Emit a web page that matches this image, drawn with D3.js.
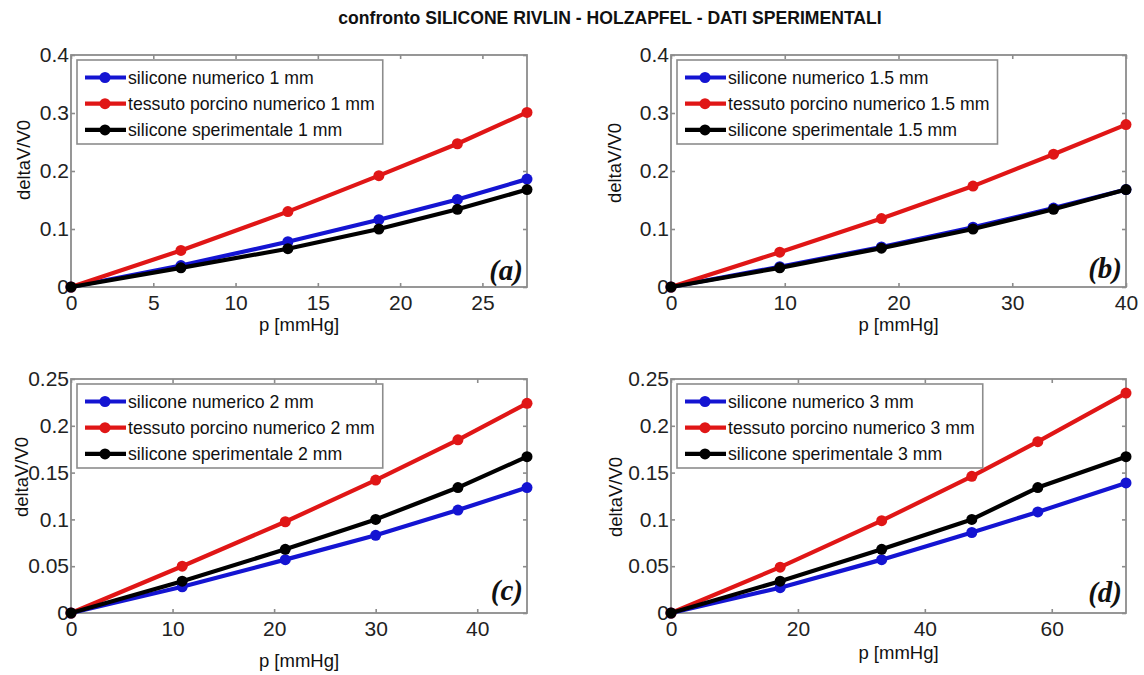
<!DOCTYPE html>
<html>
<head>
<meta charset="utf-8">
<script src="https://cdn.jsdelivr.net/npm/d3@7"></script>
<style>
  html, body { margin: 0; padding: 0; background: #fff; }
  svg { display: block; font-family: "Liberation Sans", Arial, Helvetica, sans-serif; }
</style>
</head>
<body>
<svg id="chart" width="1144" height="675"></svg>
<script>
// Title and series names
const chartTitle = "confronto SILICONE RIVLIN - HOLZAPFEL - DATI SPERIMENTALI";
const panelTags = ["(a)", "(b)", "(c)", "(d)"];
const thicknesses = ["1", "1.5", "2", "3"];
const seriesNames = ["silicone numerico", "tessuto porcino numerico", "silicone sperimentale"];
const xLabel = "p [mmHg]";
const yLabel = "deltaV/V0";

// Pressure steps [mmHg] for each wall thickness
const pressure_1mm   = [0, 6.68, 13.18, 18.71, 23.48, 27.71];
const pressure_1_5mm = [0, 9.56, 18.5, 26.55, 33.63, 40];
const pressure_2mm   = [0, 10.95, 21.1, 30.0, 38.1, 44.9];
const pressure_3mm   = [0, 17.2, 33.2, 47.4, 57.8, 71.7];

// deltaV/V0 — silicone, numerical model (Rivlin)
const siliconeNum_1mm   = [0, 0.037, 0.078, 0.116, 0.151, 0.186];
const siliconeNum_1_5mm = [0, 0.035, 0.069, 0.103, 0.136, 0.168];
const siliconeNum_2mm   = [0, 0.028, 0.057, 0.083, 0.110, 0.134];
const siliconeNum_3mm   = [0, 0.027, 0.057, 0.086, 0.108, 0.139];

// deltaV/V0 — porcine tissue, numerical model (Holzapfel)
const porcino_1mm   = [0, 0.063, 0.130, 0.192, 0.247, 0.301];
const porcino_1_5mm = [0, 0.060, 0.118, 0.174, 0.229, 0.280];
const porcino_2mm   = [0, 0.050, 0.0975, 0.142, 0.185, 0.224];
const porcino_3mm   = [0, 0.049, 0.0986, 0.146, 0.183, 0.235];

// deltaV/V0 — silicone, experimental
const siliconeExp_1mm   = [0, 0.033, 0.066, 0.100, 0.134, 0.168];
const siliconeExp_1_5mm = [0, 0.033, 0.067, 0.100, 0.134, 0.168];
const siliconeExp_2mm   = [0, 0.034, 0.068, 0.100, 0.134, 0.167];
const siliconeExp_3mm   = [0, 0.034, 0.068, 0.100, 0.134, 0.167];

// Tick values
const yTicksTop = [0, 0.1, 0.2, 0.3, 0.4];
const yTicksBottom = [0, 0.05, 0.1, 0.15, 0.2, 0.25];
const xTicks_1mm = [0, 5, 10, 15, 20, 25];
const xTicks_1_5mm = [0, 10, 20, 30, 40];
const xTicks_2mm = [0, 10, 20, 30, 40];
const xTicks_3mm = [0, 20, 40, 60];

const panels = [
  { x: pressure_1mm, s: [siliconeNum_1mm, porcino_1mm, siliconeExp_1mm], xt: xTicks_1mm, yt: yTicksTop, ymax: 0.4 },
  { x: pressure_1_5mm, s: [siliconeNum_1_5mm, porcino_1_5mm, siliconeExp_1_5mm], xt: xTicks_1_5mm, yt: yTicksTop, ymax: 0.4 },
  { x: pressure_2mm, s: [siliconeNum_2mm, porcino_2mm, siliconeExp_2mm], xt: xTicks_2mm, yt: yTicksBottom, ymax: 0.25 },
  { x: pressure_3mm, s: [siliconeNum_3mm, porcino_3mm, siliconeExp_3mm], xt: xTicks_3mm, yt: yTicksBottom, ymax: 0.25 }
];

// Plot frames and label placement (xlY = x-label baseline)
const frames = [
  { l: 71,  r: 527,  t: 55,  b: 287, xlY: 331, ylX: 23,  ylY: 160 },
  { l: 671, r: 1126, t: 55,  b: 287, xlY: 331, ylX: 614, ylY: 163 },
  { l: 71,  r: 527,  t: 379, b: 613, xlY: 667, ylX: 21,  ylY: 477 },
  { l: 671, r: 1126, t: 379, b: 613, xlY: 659, ylX: 615, ylY: 497 }
];
const tagBaselines = [280, 278, 600, 602];

const colors = ["#1414d2", "#e01616", "#000000"];
const axisGray = "#8c8c8c";

const svg = d3.select("#chart");

svg.append("text")
  .attr("x", 610).attr("y", 18)
  .attr("text-anchor", "middle").attr("dominant-baseline", "central")
  .attr("font-size", 17.6).attr("font-weight", "bold").attr("fill", "#111")
  .text(chartTitle);

panels.forEach((p, i) => {
  const f = frames[i];
  const x = d3.scaleLinear().domain([0, d3.max(p.x)]).range([f.l, f.r]);
  const y = d3.scaleLinear().domain([0, p.ymax]).range([f.b, f.t]);
  const g = svg.append("g");

  // frame background
  g.append("rect").attr("x", f.l).attr("y", f.t)
    .attr("width", f.r - f.l).attr("height", f.b - f.t)
    .attr("fill", "#fff");

  const fmtY = d => String(+d.toFixed(2));

  // axes with inward ticks on all four sides
  const axB = g.append("g").attr("transform", `translate(0,${f.b})`)
    .call(d3.axisBottom(x).tickValues(p.xt).tickSizeInner(-4).tickSizeOuter(0).tickPadding(5).tickFormat(d3.format("d")));
  const axL = g.append("g").attr("transform", `translate(${f.l},0)`)
    .call(d3.axisLeft(y).tickValues(p.yt).tickSizeInner(-4).tickSizeOuter(0).tickPadding(2).tickFormat(fmtY));
  const axT = g.append("g").attr("transform", `translate(0,${f.t})`)
    .call(d3.axisTop(x).tickValues(p.xt).tickSizeInner(-4).tickSizeOuter(0).tickFormat(""));
  const axR = g.append("g").attr("transform", `translate(${f.r},0)`)
    .call(d3.axisRight(y).tickValues(p.yt).tickSizeInner(-4).tickSizeOuter(0).tickFormat(""));

  [axB, axL, axT, axR].forEach(a => {
    a.select(".domain").remove();
    a.selectAll(".tick line").attr("stroke", axisGray).attr("stroke-width", 1.6);
    a.selectAll(".tick text").attr("font-size", 21).attr("fill", "#222")
      .attr("font-family", "'Liberation Sans', Arial, sans-serif");
  });
  axB.selectAll(".tick text").attr("dy", null).attr("y", 23).attr("dominant-baseline", "auto");

  g.append("rect").attr("x", f.l).attr("y", f.t)
    .attr("width", f.r - f.l).attr("height", f.b - f.t)
    .attr("fill", "none").attr("stroke", axisGray).attr("stroke-width", 1.8);

  // series lines and markers
  const line = d3.line().x(d => x(d[0])).y(d => y(d[1]));
  p.s.forEach((vals, k) => {
    const pts = p.x.map((xv, j) => [xv, vals[j]]);
    g.append("path").datum(pts)
      .attr("d", line).attr("fill", "none")
      .attr("stroke", colors[k]).attr("stroke-width", 4.2)
      .attr("stroke-linejoin", "round");
    g.selectAll(null).data(pts).enter().append("circle")
      .attr("cx", d => x(d[0])).attr("cy", d => y(d[1]))
      .attr("r", 5.5).attr("fill", colors[k]);
  });

  // legend
  const lg = g.append("g").attr("transform", `translate(${f.l + 6},${f.t + 5})`);
  const box = lg.append("rect").attr("fill", "#fff")
    .attr("stroke", axisGray).attr("stroke-width", 1.6).attr("height", 84);
  let maxW = 0;
  seriesNames.forEach((name, k) => {
    const ry = 17.5 + k * 26.2;
    lg.append("line").attr("x1", 8).attr("x2", 49).attr("y1", ry).attr("y2", ry)
      .attr("stroke", colors[k]).attr("stroke-width", 4.2);
    lg.append("circle").attr("cx", 28).attr("cy", ry).attr("r", 5.5).attr("fill", colors[k]);
    const t = lg.append("text").attr("x", 51).attr("y", ry)
      .attr("dominant-baseline", "central").attr("font-size", 17.7).attr("fill", "#111")
      .text(`${name} ${thicknesses[i]} mm`);
    maxW = Math.max(maxW, t.node().getComputedTextLength());
  });
  box.attr("width", 51 + maxW + 8);

  // panel tag
  g.append("text").attr("x", f.r - 4).attr("y", tagBaselines[i])
    .attr("text-anchor", "end")
    .attr("font-family", "'Liberation Serif', 'Times New Roman', serif")
    .attr("font-style", "italic").attr("font-weight", "bold")
    .attr("font-size", 29).attr("fill", "#111")
    .text(panelTags[i]);

  // axis labels
  g.append("text").attr("x", (f.l + f.r) / 2).attr("y", f.xlY)
    .attr("text-anchor", "middle")
    .attr("font-size", 18.5).attr("fill", "#111").text(xLabel);
  g.append("text")
    .attr("transform", `translate(${f.ylX},${f.ylY}) rotate(-90)`)
    .attr("text-anchor", "middle").attr("dominant-baseline", "central")
    .attr("font-size", 18.5).attr("fill", "#111").text(yLabel);
});
</script>
</body>
</html>
